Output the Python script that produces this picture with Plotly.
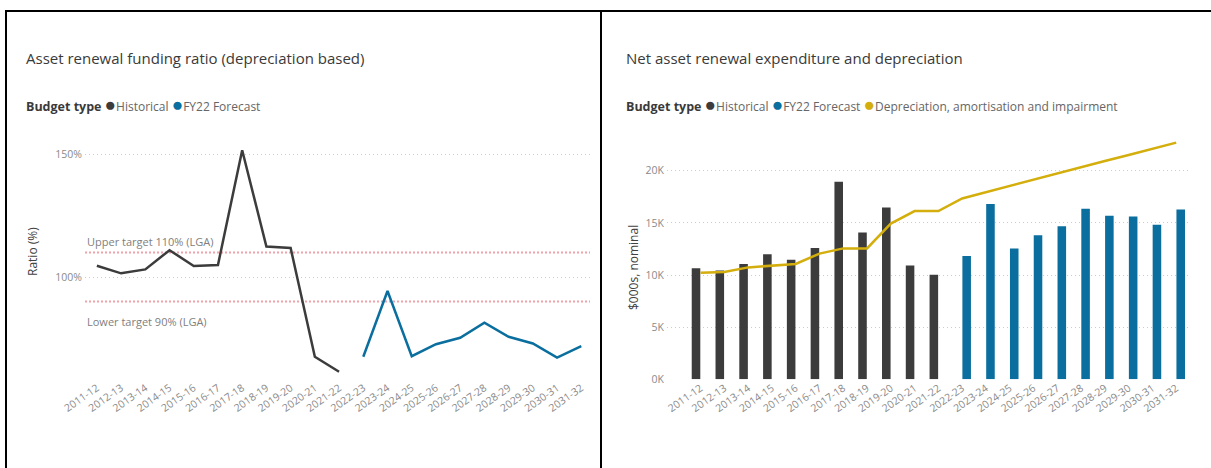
import plotly.graph_objects as go

# ---- data -------------------------------------------------------------
years = ["2011-12", "2012-13", "2013-14", "2014-15", "2015-16", "2016-17",
         "2017-18", "2018-19", "2019-20", "2020-21", "2021-22", "2022-23",
         "2023-24", "2024-25", "2025-26", "2026-27", "2027-28", "2028-29",
         "2029-30", "2030-31", "2031-32"]
hist_years = years[:11]
fc_years = years[11:]

# Asset renewal funding ratio (%)
hist_ratio = [104.6, 101.5, 103.1, 110.9, 104.5, 104.9, 151.5, 112.4, 111.8, 67.6, 61.5]
fc_ratio = [67.6, 94.3, 67.8, 72.7, 75.3, 81.4, 75.7, 73.0, 67.2, 71.9]
upper_target = 110
lower_target = 90

# Net asset renewal expenditure ($000s, in thousands)
hist_spend = [10.64, 10.42, 11.06, 12.0, 11.47, 12.58, 18.95, 14.07, 16.46, 10.9, 10.02]
fc_spend = [11.83, 16.8, 12.53, 13.82, 14.68, 16.35, 15.67, 15.61, 14.81, 16.28]
depreciation = [10.22, 10.29, 10.73, 10.91, 11.06, 12.05, 12.55, 12.55, 14.93, 16.13,
                16.13, 17.34, 17.95, 18.55, 19.15, 19.75, 20.35, 20.93, 21.5, 22.1, 22.69]

ratio_ticks = [100, 150]
ratio_labels = ["100%", "150%"]
spend_ticks = [0, 5, 10, 15, 20]
spend_labels = ["0K", "5K", "10K", "15K", "20K"]

HIST_NAME = "Historical"
FC_NAME = "FY22 Forecast"
DEP_NAME = "Depreciation, amortisation and impairment"

# ---- styling ----------------------------------------------------------
W, H = 1211, 468
FONT = "Open Sans"
C_HIST = "#3c3c3c"
C_FC = "#0a6e9e"
C_DEP = "#d3ae0c"
C_TARGET = "#f0a2aa"
C_GRID = "#cccccc"
C_TICK = "#8a8a8a"

# clustered bars: each year has a slot for both budget types
BAR_W = 0.36
HIST_OFFSET = -0.37
FC_OFFSET = 0.01


def fx(p):
    return p / W


def fy(p):
    return 1 - p / H


fig = go.Figure()

# left panel: ratio lines
fig.add_trace(go.Scatter(x=hist_years, y=hist_ratio, mode="lines", name=HIST_NAME,
                         line=dict(color=C_HIST, width=2.5), xaxis="x", yaxis="y"))
fig.add_trace(go.Scatter(x=fc_years, y=fc_ratio, mode="lines", name=FC_NAME,
                         line=dict(color=C_FC, width=2.5), xaxis="x", yaxis="y"))

# right panel: expenditure bars and depreciation line
fig.add_trace(go.Bar(x=hist_years, y=hist_spend, name=HIST_NAME, marker_color=C_HIST,
                     marker_line_width=0, width=BAR_W, offset=HIST_OFFSET,
                     xaxis="x2", yaxis="y2"))
fig.add_trace(go.Bar(x=fc_years, y=fc_spend, name=FC_NAME, marker_color=C_FC,
                     marker_line_width=0, width=BAR_W, offset=FC_OFFSET,
                     xaxis="x2", yaxis="y2"))
fig.add_trace(go.Scatter(x=years, y=depreciation, mode="lines", name=DEP_NAME,
                         line=dict(color=C_DEP, width=2.5), xaxis="x2", yaxis="y2"))

tickfont = dict(family=FONT, size=10.5, color=C_TICK)
common_x = dict(type="category", categoryorder="array", categoryarray=years,
                tickangle=-35, tickfont=tickfont, showgrid=False, zeroline=False,
                showline=False, ticks="", automargin=False, fixedrange=True)
common_y = dict(showgrid=True, gridcolor=C_GRID, griddash="1px,3px", gridwidth=1,
                zeroline=False, showline=False, ticks="", tickfont=tickfont,
                automargin=False, ticklabelstandoff=2)

fig.update_layout(
    template="none",
    width=W, height=H,
    margin=dict(l=0, r=0, t=0, b=0, pad=0),
    paper_bgcolor="white", plot_bgcolor="white",
    showlegend=False,
    barmode="overlay",
    xaxis=dict(common_x, domain=[fx(85), fx(590)], range=[-0.49, 20.36], anchor="y"),
    yaxis=dict(common_y, domain=[fy(379), fy(145)], range=[58.54, 153.66],
               tickvals=ratio_ticks, ticktext=ratio_labels, anchor="x"),
    xaxis2=dict(common_x, domain=[fx(667), fx(1190)], range=[-1.41, 20.58], anchor="y2"),
    yaxis2=dict(common_y, domain=[fy(379.3), fy(139.4)], range=[0, 23],
                tickvals=spend_ticks, ticktext=spend_labels, anchor="x2"),
)

# target bands on the ratio chart
for val in (upper_target, lower_target):
    fig.add_shape(type="line", xref="x domain", yref="y", x0=0, x1=1, y0=val, y1=val,
                  line=dict(color=C_TARGET, width=2, dash="2px,2px"), layer="below")

ann = []
ann.append(dict(xref="x domain", yref="y", x=0, y=upper_target, yshift=11,
                text=f"Upper target {upper_target}% (LGA)", showarrow=False,
                xanchor="left", yanchor="middle",
                font=dict(family=FONT, size=11, color="#808080")))
ann.append(dict(xref="x domain", yref="y", x=0, y=lower_target, yshift=-20,
                text=f"Lower target {lower_target}% (LGA)", showarrow=False,
                xanchor="left", yanchor="middle",
                font=dict(family=FONT, size=11, color="#808080")))

# panel titles
for x, t in ((24, "Asset renewal funding ratio (depreciation based)"),
             (624, "Net asset renewal expenditure and depreciation")):
    ann.append(dict(xref="paper", yref="paper", x=fx(x), y=fy(58), text=t,
                    showarrow=False, xanchor="left", yanchor="middle",
                    font=dict(family=FONT, size=15, color="#3a3a3a")))


def legend_text(items):
    head = "<span style='font-size:12.5px;color:#3a3a3a'><b>Budget type</b></span> "
    swatches = [f"<span style='color:{col};font-size:19px'>●</span>{name}"
                for name, col in items]
    return head + " ".join(swatches)


ann.append(dict(xref="paper", yref="paper", x=fx(24), y=fy(104),
                text=legend_text([(HIST_NAME, C_HIST), (FC_NAME, C_FC)]),
                showarrow=False, xanchor="left", yanchor="middle",
                font=dict(family=FONT, size=12, color="#666666")))
ann.append(dict(xref="paper", yref="paper", x=fx(624), y=fy(104),
                text=legend_text([(HIST_NAME, C_HIST), (FC_NAME, C_FC), (DEP_NAME, C_DEP)]),
                showarrow=False, xanchor="left", yanchor="middle",
                font=dict(family=FONT, size=12, color="#666666")))

# axis titles
ann.append(dict(xref="paper", yref="paper", x=fx(32), y=fy(252), text="Ratio (%)",
                textangle=-90, showarrow=False, xanchor="center", yanchor="middle",
                font=dict(family=FONT, size=12, color="#404040")))
ann.append(dict(xref="paper", yref="paper", x=fx(633), y=fy(268), text="$000s, nominal",
                textangle=-90, showarrow=False, xanchor="center", yanchor="middle",
                font=dict(family=FONT, size=12, color="#404040")))
fig.update_layout(annotations=ann)

# panel frame lines
frame = dict(color="black", width=2)
fig.add_shape(type="line", xref="paper", yref="paper", x0=fx(5), x1=1, y0=fy(11), y1=fy(11), line=frame)
fig.add_shape(type="line", xref="paper", yref="paper", x0=fx(6), x1=fx(6), y0=0, y1=fy(11), line=frame)
fig.add_shape(type="line", xref="paper", yref="paper", x0=fx(601), x1=fx(601), y0=0, y1=fy(11), line=frame)

fig.write_html("out.html")
